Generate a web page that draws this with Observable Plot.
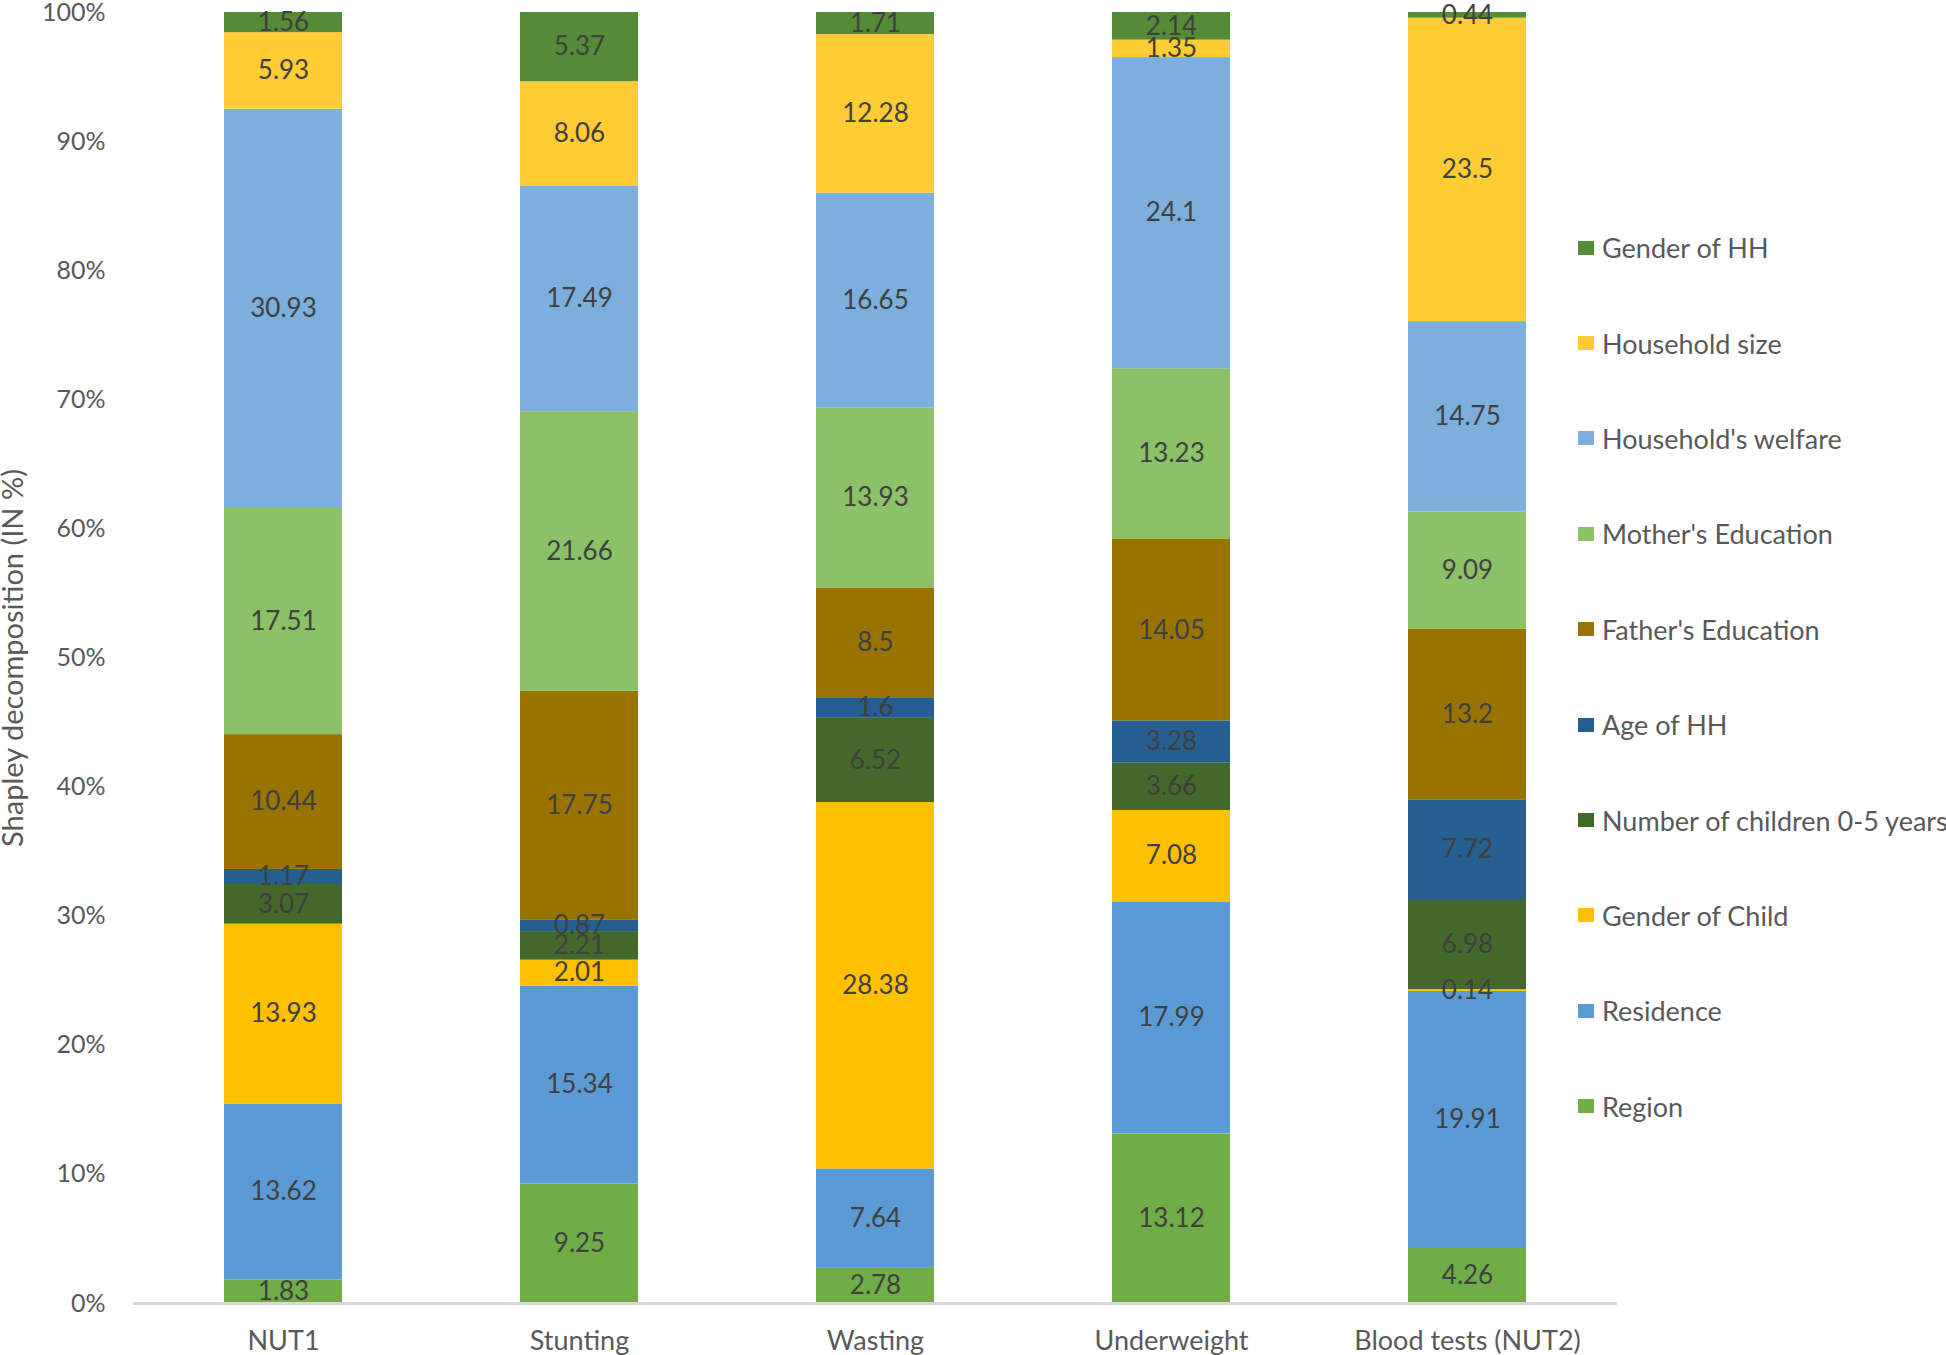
<!DOCTYPE html>
<html>
<head>
<meta charset="utf-8">
<script src="https://cdn.jsdelivr.net/npm/d3@7"></script>
<script src="https://cdn.jsdelivr.net/npm/@observablehq/plot@0.6"></script>
<style>
  body { margin: 0; background: #fff; }
  #wrap { position: relative; width: 1946px; height: 1355px; overflow: hidden; }
  #legend { position: absolute; left: 1578px; top: 200px; font-family: Lato, "Open Sans", sans-serif; font-size: 27px; color: #595959; }
  .item { height: 95.4px; display: flex; align-items: center; white-space: nowrap; }
  .sw { width: 16px; height: 14px; margin-right: 8px; flex: none; }
</style>
</head>
<body>
<div id="wrap"><div id="legend"></div></div>
<script>
// ---- data ----
const categories = ["NUT1", "Stunting", "Wasting", "Underweight", "Blood tests (NUT2)"];
// stacking order, bottom to top
const factors = ["Region", "Residence", "Gender of Child", "Number of children 0-5 years", "Age of HH",
  "Father's Education", "Mother's Education", "Household's welfare", "Household size", "Gender of HH"];
const colors = ["#70AD47", "#5B9BD5", "#FFC000", "#43682B", "#255E91",
  "#997300", "#8CC168", "#7CAFDD", "#FFCD33", "#558B36"];

const region          = [1.83, 9.25, 2.78, 13.12, 4.26];
const residence       = [13.62, 15.34, 7.64, 17.99, 19.91];
const genderChild     = [13.93, 2.01, 28.38, 7.08, 0.14];
const numChildren     = [3.07, 2.21, 6.52, 3.66, 6.98];
const ageHH           = [1.17, 0.87, 1.6, 3.28, 7.72];
const fatherEdu       = [10.44, 17.75, 8.5, 14.05, 13.2];
const motherEdu       = [17.51, 21.66, 13.93, 13.23, 9.09];
const welfare         = [30.93, 17.49, 16.65, 24.1, 14.75];
const hhSize          = [5.93, 8.06, 12.28, 1.35, 23.5];
const genderHH        = [1.56, 5.37, 1.71, 2.14, 0.44];

const yTicks = [0, 0.1, 0.2, 0.3, 0.4, 0.5, 0.6, 0.7, 0.8, 0.9, 1.0];

const series = [region, residence, genderChild, numChildren, ageHH, fatherEdu, motherEdu, welfare, hhSize, genderHH];
const table = [];
factors.forEach((f, i) => categories.forEach((c, j) => table.push({category: c, factor: f, value: series[i][j]})));

const stackOpts = {x: "category", y: "value", z: "factor", order: factors, offset: "normalize"};

const chart = Plot.plot({
  width: 1946,
  height: 1355,
  marginTop: 12,
  marginBottom: 52,
  marginLeft: 133,
  marginRight: 329,
  style: {fontFamily: "Lato, 'Open Sans', sans-serif", fontSize: "25px", color: "#595959", background: "#fff"},
  x: {type: "band", domain: categories, paddingInner: 0.6, paddingOuter: 0.3},
  y: {domain: [0, 1]},
  color: {domain: factors, range: colors},
  marks: [
    Plot.barY(table, Plot.stackY({...stackOpts, fill: "factor"})),
    Plot.text(table, Plot.stackY({...stackOpts, text: d => String(d.value), fill: "#404040", fontSize: 26})),
    Plot.ruleY([0], {stroke: "#d9d9d9", strokeWidth: 3}),
    Plot.axisY({ticks: yTicks, tickFormat: d3.format(".0%"), tickSize: 0, tickPadding: 28, fill: "#595959",
      label: null}),
    Plot.axisY({ticks: [], tickSize: 0, fill: "#595959", fontSize: 29,
      label: "Shapley decomposition (IN %)", labelAnchor: "center", labelArrow: "none", labelOffset: 131}),
    Plot.axisX({tickSize: 0, tickPadding: 27, fill: "#595959", fontSize: 27, label: null})
  ]
});
document.getElementById("wrap").prepend(chart);

const legend = document.getElementById("legend");
factors.slice().reverse().forEach((f) => {
  const item = document.createElement("div");
  item.className = "item";
  const sw = document.createElement("span");
  sw.className = "sw";
  sw.style.background = colors[factors.indexOf(f)];
  const t = document.createElement("span");
  t.textContent = f;
  item.append(sw, t);
  legend.append(item);
});
</script>
</body>
</html>
